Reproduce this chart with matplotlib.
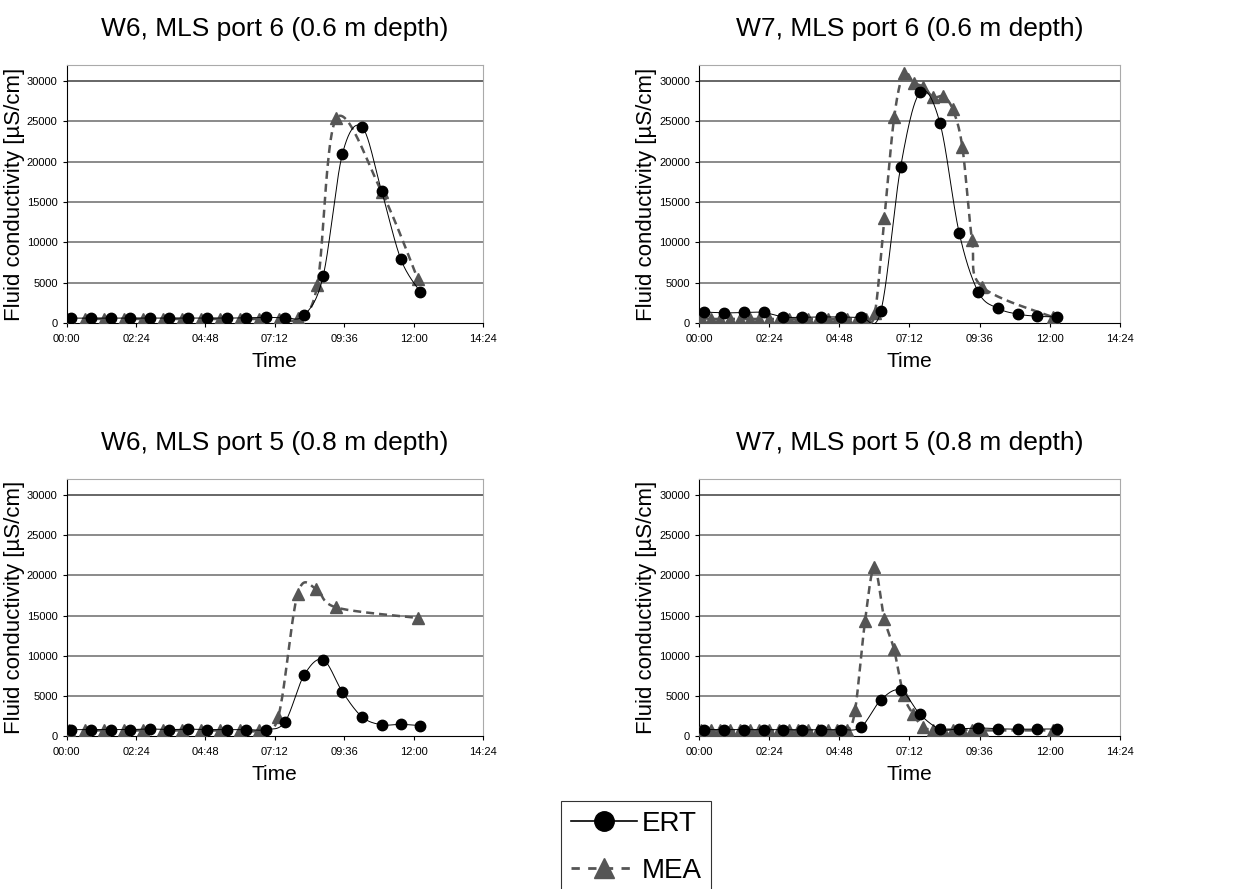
import numpy as np
import matplotlib
matplotlib.use("Agg")
import matplotlib.pyplot as plt
from matplotlib.lines import Line2D

plt.rcParams['font.family'] = ['Liberation Sans', 'DejaVu Sans']

# time in hours since start, conductivity in uS/cm
ert_t_a = [0.14, 0.84, 1.53, 2.20, 2.87, 3.54, 4.20, 4.86, 5.54, 6.21, 6.88, 7.55, 8.21, 8.87, 9.54, 10.22, 10.89, 11.56, 12.22]
ert_t_b = [0.18, 0.86, 1.54, 2.21, 2.89, 3.53, 4.19, 4.85, 5.54, 6.22, 6.90, 7.56, 8.24, 8.90, 9.56, 10.24, 10.91, 11.58, 12.26]

w6p6_ert = [600, 600, 600, 600, 600, 600, 600, 600, 600, 650, 700, 650, 950, 5800, 21000, 24300, 16400, 7900, 3900]
w6p6_mea_t = [0.08, 0.63, 1.30, 1.98, 2.65, 3.32, 3.99, 4.65, 5.32, 5.99, 6.66, 7.35, 8.01, 8.67, 9.33, 10.89, 12.15]
w6p6_mea = [500, 500, 500, 500, 500, 500, 500, 500, 500, 500, 500, 500, 600, 4700, 25400, 16300, 5400]

w7p6_ert = [1350, 1250, 1300, 1300, 750, 700, 750, 750, 750, 1450, 19400, 28600, 24850, 11200, 3800, 1800, 1100, 830, 750]
w7p6_mea_t = [0.07, 0.40, 0.73, 1.07, 1.40, 1.73, 2.07, 2.40, 2.73, 3.07, 3.40, 3.73, 4.07, 4.40, 4.73, 5.07, 5.40, 5.73,
              6.02, 6.34, 6.68, 7.01, 7.34, 7.68, 8.01, 8.35, 8.68, 9.01, 9.34, 9.68, 12.12]
w7p6_mea = [600, 500, 500, 500, 500, 500, 500, 500, 500, 500, 500, 500, 500, 500, 500, 500, 500, 500,
            1250, 13000, 25600, 31000, 29800, 29300, 28000, 28100, 26500, 21800, 10300, 4500, 700]

w6p5_ert = [790, 800, 800, 800, 870, 800, 850, 800, 790, 800, 790, 1750, 7560, 9500, 5480, 2370, 1400, 1450, 1300]
w6p5_mea_t = [0.08, 0.63, 1.30, 1.98, 2.65, 3.32, 3.99, 4.65, 5.32, 5.99, 6.66, 7.32, 7.99, 8.64, 9.33, 12.15]
w6p5_mea = [700, 700, 700, 700, 700, 700, 700, 700, 700, 700, 700, 2400, 17700, 18300, 16000, 14700]

w7p5_ert = [800, 800, 800, 800, 800, 750, 800, 800, 1100, 4500, 5700, 2700, 870, 900, 1000, 900, 850, 870, 870]
w7p5_mea_t = [0.07, 0.40, 0.73, 1.07, 1.40, 1.73, 2.07, 2.40, 2.73, 3.07, 3.40, 3.73, 4.07, 4.40, 4.73, 5.07,
              5.34, 5.68, 6.00, 6.34, 6.67, 7.00, 7.33, 7.67, 8.01, 8.34, 8.68, 9.01, 9.34, 9.68, 12.12]
w7p5_mea = [700, 700, 700, 700, 700, 700, 700, 700, 700, 700, 700, 700, 700, 700, 700, 700,
            3200, 14300, 21000, 14600, 10800, 5100, 2700, 1100, 800, 800, 800, 800, 800, 700, 700]

titles = ["W6, MLS port 6 (0.6 m depth)", "W7, MLS port 6 (0.6 m depth)",
          "W6, MLS port 5 (0.8 m depth)", "W7, MLS port 5 (0.8 m depth)"]
xtick_labels = ["00:00", "02:24", "04:48", "07:12", "09:36", "12:00", "14:24"]

panels = [
    (ert_t_a, w6p6_ert, w6p6_mea_t, w6p6_mea),
    (ert_t_b, w7p6_ert, w7p6_mea_t, w7p6_mea),
    (ert_t_a, w6p5_ert, w6p5_mea_t, w6p5_mea),
    (ert_t_b, w7p5_ert, w7p5_mea_t, w7p5_mea),
]


def smooth(x, y, n=24):
    # catmull-rom curve through the points (like excel's smoothed lines),
    # computed in screen-ish units so both axes count equally
    sx, sy = 416 / 14.4, 258 / 32000
    pts = np.column_stack([np.asarray(x) * sx, np.asarray(y) * sy])
    p = np.vstack([pts[0], pts, pts[-1]])
    t = np.linspace(0, 1, n, endpoint=False)[:, None]
    segs = []
    for i in range(1, len(p) - 2):
        p0, p1, p2, p3 = p[i - 1], p[i], p[i + 1], p[i + 2]
        segs.append(0.5 * (2 * p1 + (-p0 + p2) * t + (2 * p0 - 5 * p1 + 4 * p2 - p3) * t ** 2
                           + (-p0 + 3 * p1 - 3 * p2 + p3) * t ** 3))
    segs.append(pts[-1][None])
    out = np.vstack(segs)
    return out[:, 0] / sx, out[:, 1] / sy


fig = plt.figure(figsize=(12.33, 8.89), dpi=100)
boxes = [
    [0.0541, 0.6367, 0.3376, 0.2902],
    [0.5669, 0.6367, 0.3414, 0.2902],
    [0.0541, 0.1721, 0.3376, 0.2891],
    [0.5669, 0.1721, 0.3414, 0.2891],
]
mea_col = "#555555"

for box, title, (et, ev, mt, mv) in zip(boxes, titles, panels):
    ax = fig.add_axes(box)
    for yv in range(5000, 30001, 5000):
        ax.axhline(yv, color="#8a8a8a" if yv != 30000 else "#666666", lw=1.4, zorder=0)

    mx, my = smooth(mt, mv)
    ax.plot(mx, my, color=mea_col, lw=1.8, dashes=(3.2, 2.0), zorder=2)
    ax.plot(mt, mv, ls="none", marker="^", ms=8, color=mea_col, zorder=3)
    ex, ey = smooth(et, ev)
    ax.plot(ex, ey, color="black", lw=0.7, zorder=4)
    ax.plot(et, ev, ls="none", marker="o", ms=7.5, color="black", zorder=5)

    ax.set_xlim(0, 14.4)
    ax.set_ylim(0, 32000)
    ax.set_xticks([0, 2.4, 4.8, 7.2, 9.6, 12.0, 14.4])
    ax.set_xticklabels(xtick_labels)
    ax.set_yticks(range(0, 30001, 5000))
    ax.tick_params(axis="both", labelsize=8, length=3, direction="out", width=0.8)
    ax.tick_params(axis="x", pad=5)
    for s in ["top", "right"]:
        ax.spines[s].set_color("#aaaaaa")
    for s in ["left", "bottom"]:
        ax.spines[s].set_color("black")
    ax.set_xlabel("Time", fontsize=15, labelpad=6)
    ax.set_ylabel("Fluid conductivity [\u00b5S/cm]", fontsize=16)
    ax.yaxis.set_label_coords(-0.1, 0.5)
    ax.set_title(title, fontsize=19, pad=21)

handles = [
    Line2D([], [], color="black", lw=1.2, marker="o", ms=14),
    Line2D([], [], color=mea_col, lw=2.0, dashes=(3, 3), marker="^", ms=14),
]
leg = fig.legend(handles, ["ERT", "MEA"], loc="upper center", bbox_to_anchor=(0.516, 0.0985),
                 borderaxespad=0, fontsize=20, frameon=True, fancybox=False, edgecolor="black",
                 handlelength=2.4, handletextpad=0.15, borderpad=0.35, labelspacing=0.75)
leg.get_frame().set_linewidth(0.8)

fig.savefig("out.png", dpi=100)
